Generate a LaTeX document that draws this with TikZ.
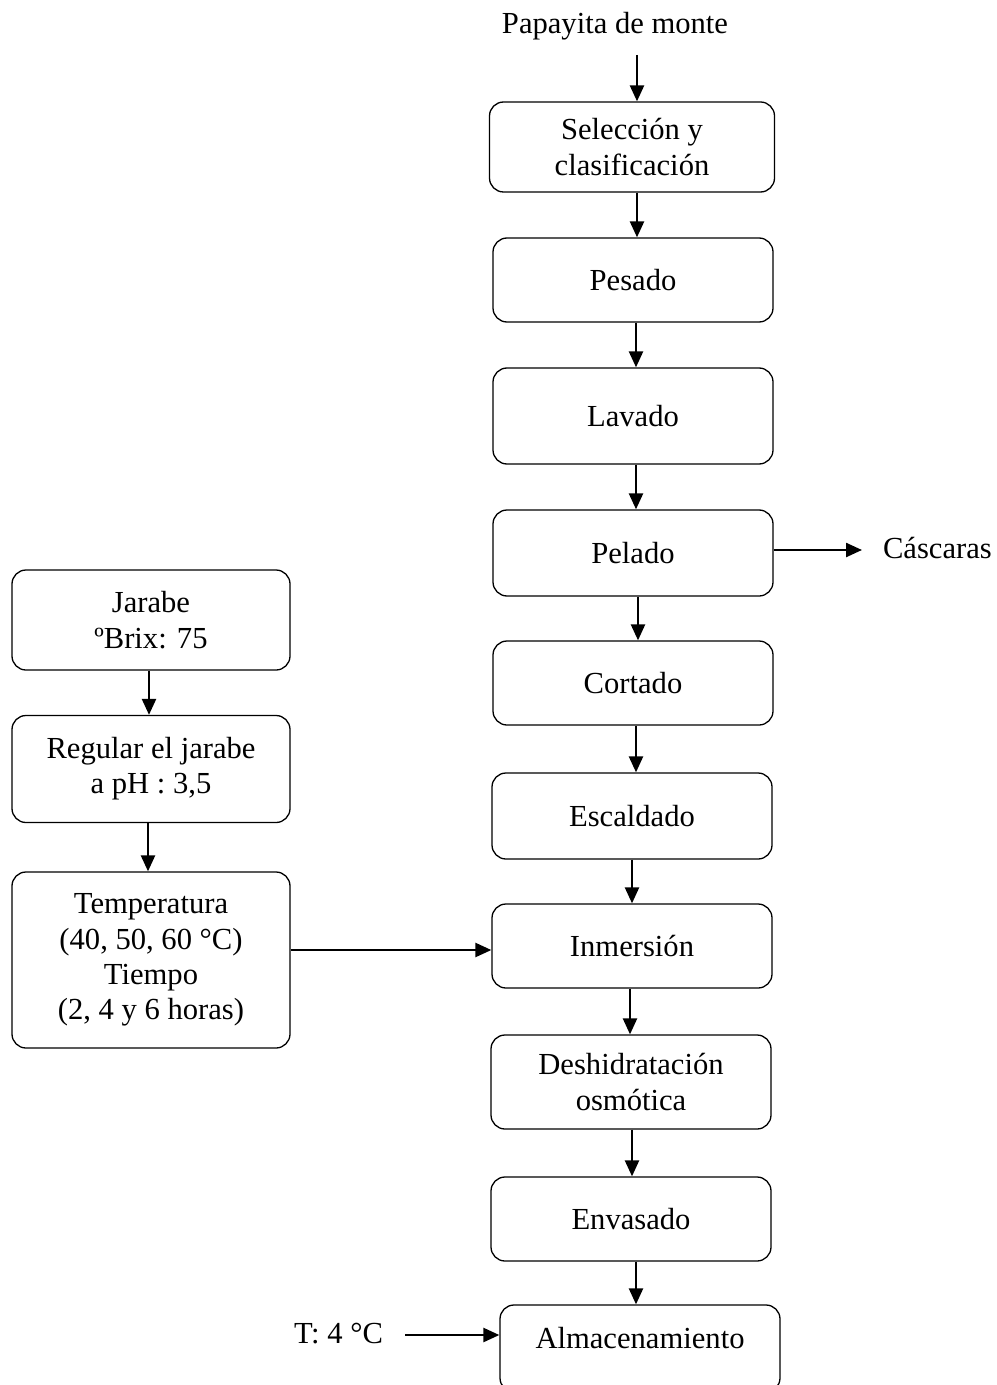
\documentclass[tikz,border=0pt]{standalone}
\usepackage{fontspec}
\setmainfont{Liberation Serif}
\usetikzlibrary{arrows.meta}

\begin{document}
\begin{tikzpicture}[
    x=0.5pt, y=-0.5pt,
    font=\fontsize{15.3}{17.6}\selectfont,
    paso/.style={draw, line width=0.65pt, rounded corners=7pt, align=center,
        minimum width=140pt, minimum height=42pt, inner sep=0pt},
    flecha/.style={draw, line width=1.2pt, -{Triangle[length=8pt, width=7pt]}}
]
\useasboundingbox (0,0) rectangle (996,1385);

% ================================================================
% Linea principal del proceso
% ================================================================
\node (papayita) at (615,26) {Papayita de monte};
\coordinate (inicio) at (637,55);

\node[paso, minimum width=142.5pt, minimum height=45pt] (seleccion) at (632,147) {Selección y\\clasificación};
\node[paso] (pesado)    at (633,280)  {Pesado};
\node[paso, minimum height=48pt] (lavado) at (633,416) {Lavado};
\node[paso, minimum height=43pt] (pelado) at (633,553) {Pelado};
\node[paso] (cortado)   at (633,683)  {Cortado};
\node[paso, minimum height=43pt] (escaldado) at (632,816) {Escaldado};
\node[paso] (inmersion) at (632,946)  {Inmersión};
\node[paso, minimum height=47pt] (deshidratacion) at (631,1082) {Deshidratación\\osmótica};
\node[paso] (envasado)  at (631,1219) {Envasado};
\node[paso, minimum height=0pt, text height=21.5pt, text depth=22pt, anchor=base]
    (almacenamiento) at (640,1348) {Almacenamiento};

% flechas verticales
\draw[flecha] (inicio) -- (inicio |- seleccion.north);
\draw[flecha] (seleccion.south -| inicio) -- (inicio |- pesado.north);
\draw[flecha] (pesado.south -| 636,0) -- (lavado.north -| 636,0);
\draw[flecha] (lavado.south -| 636,0) -- (pelado.north -| 636,0);
\draw[flecha] (pelado.south -| 638,0) -- (cortado.north -| 638,0);
\draw[flecha] (cortado.south -| 636,0) -- (escaldado.north -| 636,0);
\draw[flecha] (escaldado.south) -- (inmersion.north);
\draw[flecha] (inmersion.south -| 630,0) -- (deshidratacion.north -| 630,0);
\draw[flecha] (deshidratacion.south -| 632,0) -- (envasado.north -| 632,0);
\draw[flecha] (envasado.south -| 636,0) -- (almacenamiento.north -| 636,0);

% salida de cascaras
\node[anchor=west] (cascaras) at (876,548) {Cáscaras};
\draw[flecha] (pelado.east |- 0,550) -- (862,550);

% ================================================================
% Preparacion del jarabe
% ================================================================
\node[paso, minimum width=139pt, minimum height=50pt] (jarabe) at (151,620) {Jarabe\\ºBrix: 75};
\node[paso, minimum width=139pt, minimum height=53.5pt] (regular) at (151,769) {Regular el jarabe\\a pH : 3,5};
\node[paso, minimum width=139pt, minimum height=88pt] (temperatura) at (151,960)
    {Temperatura\\(40, 50, 60 °C)\\Tiempo\\(2, 4 y 6 horas)};

\draw[flecha] (jarabe.south -| 149,0) -- (regular.north -| 149,0);
\draw[flecha] (regular.south -| 148,0) -- (temperatura.north -| 148,0);
\draw[flecha] (temperatura.east |- 0,950) -- (inmersion.west |- 0,950);

% ================================================================
% Almacenamiento en frio
% ================================================================
\node[anchor=east] (frio) at (390,1334) {T: 4 °C};
\draw[flecha] (405,1335) -- (almacenamiento.west |- 0,1335);

\end{tikzpicture}
\end{document}
